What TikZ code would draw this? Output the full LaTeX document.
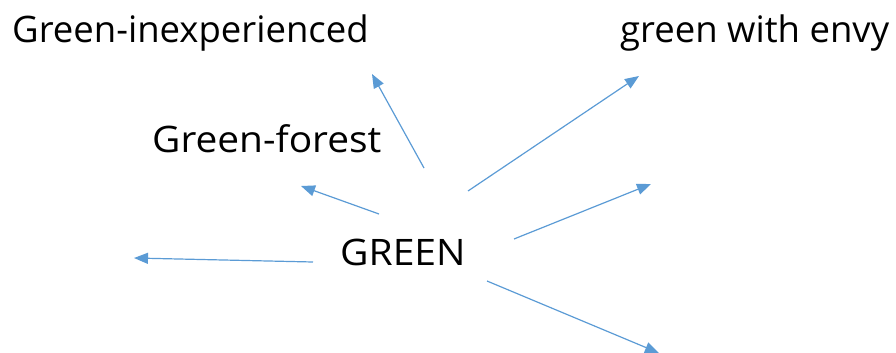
\documentclass[tikz,border=0pt]{standalone}
\usepackage{fontspec}
\setmainfont{Open Sans}
\usetikzlibrary{arrows.meta}
\definecolor{arrowblue}{HTML}{5B9BD5}
\begin{document}
\begin{tikzpicture}[x=1pt,y=-1pt,
  lbl/.style={anchor=base west,inner sep=0pt,font=\fontsize{36.5}{40}\selectfont},
  conn/.style={draw=arrowblue,line width=1.2pt,-{Triangle[length=14pt,width=11pt]}}]
\useasboundingbox (0,0) rectangle (896,353);
\node[lbl] (inexp) at (12,42) {Green-inexperienced};
\node[lbl] (envy) at (620,42) {green with envy};
\node[lbl] (forest) at (152,152) {\scalebox{1.065}[1]{Green-forest}};
\node[lbl] (green) at (340,265) {\scalebox{1.07}[1]{GREEN}};
\coordinate (s1) at (424,168); \coordinate (t1) at (372,74);
\coordinate (s2) at (379,214); \coordinate (t2) at (301,186);
\coordinate (s3) at (313,262); \coordinate (t3) at (134,258);
\coordinate (s4) at (468,191); \coordinate (t4) at (639,76);
\coordinate (s5) at (514,239); \coordinate (t5) at (651,184);
\coordinate (s6) at (487,281); \coordinate (t6) at (659,353);
\foreach \i in {1,...,6} \draw[conn] (s\i) -- (t\i);
\end{tikzpicture}
\end{document}
